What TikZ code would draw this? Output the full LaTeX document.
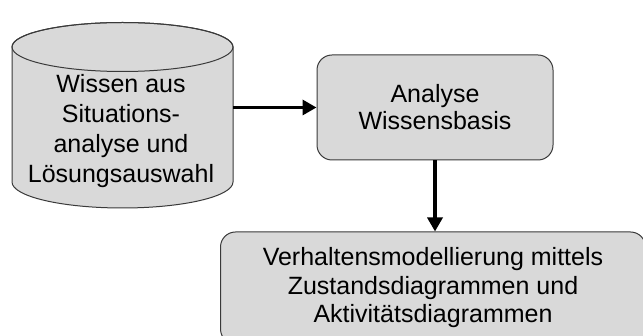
\documentclass[tikz,border=0pt]{standalone}
\usepackage{fontspec}
\setmainfont{Liberation Sans}
\usetikzlibrary{arrows.meta}
\definecolor{boxgray}{HTML}{D9D9D9}
\definecolor{edgegray}{HTML}{3A3A3A}
\begin{document}
\begin{tikzpicture}[x=1pt,y=-1pt,
  boxtext/.style={align=center, inner sep=0pt},
  box/.style={boxtext, draw=edgegray, fill=boxgray, rounded corners=15pt, line width=1pt},
  flow/.style={draw=black, line width=3.3pt, -{Triangle[length=14pt,width=15pt]}}]
  \useasboundingbox (0,0) rectangle (643,336);
  \clip (0,0) rectangle (643,336);

  % knowledge store drawn as a cylinder
  \filldraw[fill=boxgray, draw=edgegray, line width=1pt]
    (12,47) -- (12,182)
    arc[start angle=180, end angle=0, x radius=110.5, y radius=26]
    -- (233,47)
    arc[start angle=0, end angle=-180, x radius=110.5, y radius=24.5]
    -- cycle;
  \draw[edgegray, line width=1pt] (122.5,47) ellipse[x radius=110.5, y radius=24.5];
  \node[boxtext, anchor=north, font=\fontsize{25}{30}\selectfont] (db) at (121,74)
    {Wissen aus\\Situations-\\analyse und\\Lösungsauswahl};
  \coordinate (dbr) at (233,107.5);

  % process boxes
  \node[box, font=\fontsize{25}{27}\selectfont,
        minimum width=236pt, minimum height=105pt] (ana) at (435,107.5)
    {Analyse\\Wissensbasis};
  \node[box, font=\fontsize{25}{28.5}\selectfont,
        minimum width=425pt, minimum height=112pt] (mod) at (433,288)
    {Verhaltensmodellierung mittels\\Zustandsdiagrammen und\\Aktivitätsdiagrammen};

  % connectors
  \draw[flow] (dbr) -- (ana.west);
  \draw[flow] (ana.south) -- (ana.south |- mod.north);
\end{tikzpicture}
\end{document}
